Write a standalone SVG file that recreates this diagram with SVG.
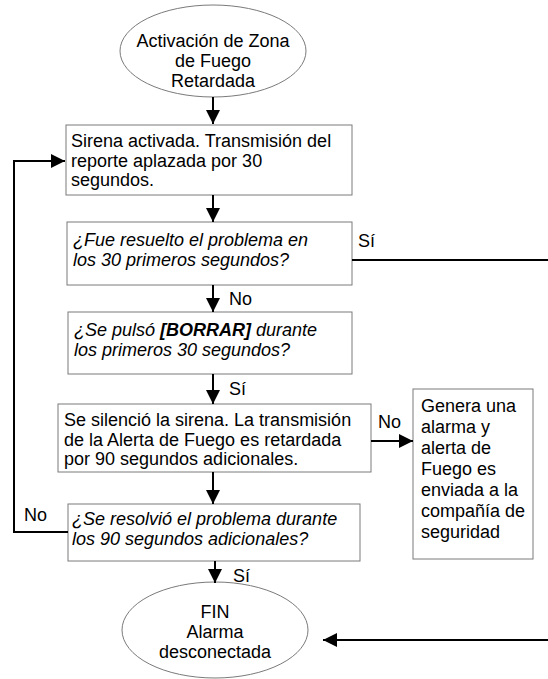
<svg xmlns="http://www.w3.org/2000/svg" width="548" height="679" viewBox="0 0 548 679">
<style>
.box{fill:#fff;stroke:#7a7a7a;stroke-width:1}
.t{font-family:"Liberation Sans",Arial,sans-serif;font-size:18px;fill:#000}
.i{font-style:italic}
.c{text-anchor:middle}
.con{fill:none;stroke:#000;stroke-width:2}
</style>
<defs>
<marker id="ah" viewBox="0 0 14 14" refX="14" refY="7" markerWidth="14" markerHeight="14" markerUnits="userSpaceOnUse" orient="auto"><path d="M0,0 L14,7 L0,14 z" fill="#000"/></marker>
</defs>
<rect width="548" height="679" fill="#fff"/>
<g id="start">
<ellipse class="box" cx="213" cy="51" rx="93" ry="46"/>
<text class="t c" x="213" y="47">Activación de Zona</text>
<text class="t c" x="213" y="67">de Fuego</text>
<text class="t c" x="213" y="87">Retardada</text>
</g>
<g id="sirena">
<rect class="box" x="66" y="125" width="286" height="70"/>
<text class="t" x="71" y="147">Sirena activada. Transmisión del</text>
<text class="t" x="71" y="167">reporte aplazada por 30</text>
<text class="t" x="71" y="186">segundos.</text>
</g>
<g id="q1">
<rect class="box" x="67" y="222" width="285" height="63"/>
<text class="t i" x="73" y="246">¿Fue resuelto el problema en</text>
<text class="t i" x="73" y="266">los 30 primeros segundos?</text>
</g>
<g id="q2">
<rect class="box" x="68" y="312" width="284" height="62"/>
<text class="t i" x="74" y="336">¿Se pulsó <tspan font-weight="bold">[BORRAR]</tspan> durante</text>
<text class="t i" x="74" y="356">los primeros 30 segundos?</text>
</g>
<g id="silencio">
<rect class="box" x="58" y="404" width="313" height="68"/>
<text class="t" x="64" y="426">Se silenció la sirena. La transmisión</text>
<text class="t" x="64" y="446">de la Alerta de Fuego es retardada</text>
<text class="t" x="64" y="465">por 90 segundos adicionales.</text>
</g>
<g id="genera">
<rect class="box" x="413" y="389" width="120" height="170"/>
<text class="t" x="421" y="412">Genera una</text>
<text class="t" x="421" y="433">alarma y</text>
<text class="t" x="421" y="454">alerta de</text>
<text class="t" x="421" y="475">Fuego es</text>
<text class="t" x="421" y="496">enviada a la</text>
<text class="t" x="421" y="517">compañía de</text>
<text class="t" x="421" y="538">seguridad</text>
</g>
<g id="q3">
<rect class="box" x="68" y="504" width="292" height="57"/>
<text class="t i" x="72" y="525">¿Se resolvió el problema durante</text>
<text class="t i" x="72" y="545">los 90 segundos adicionales?</text>
</g>
<g id="fin">
<ellipse class="box" cx="215" cy="630" rx="93" ry="48"/>
<text class="t c" x="215" y="618">FIN</text>
<text class="t c" x="215" y="638">Alarma</text>
<text class="t c" x="215" y="658">desconectada</text>
</g>
<g id="connectors">
<line class="con" x1="213" y1="97" x2="213" y2="124" marker-end="url(#ah)"/>
<line class="con" x1="213" y1="195" x2="213" y2="222" marker-end="url(#ah)"/>
<line class="con" x1="213" y1="285" x2="213" y2="312" marker-end="url(#ah)"/>
<line class="con" x1="213" y1="374" x2="213" y2="404" marker-end="url(#ah)"/>
<line class="con" x1="213" y1="472" x2="213" y2="504" marker-end="url(#ah)"/>
<line class="con" x1="215" y1="561" x2="215" y2="583" marker-end="url(#ah)"/>
<line class="con" x1="371" y1="441" x2="413" y2="441" marker-end="url(#ah)"/>
<polyline class="con" points="68,532 14,532 14,161 65,161" marker-end="url(#ah)"/>
<polyline class="con" points="352,260 552,260 552,640 323,640" marker-end="url(#ah)"/>
<text class="t" x="229" y="305">No</text>
<text class="t" x="229" y="395">Sí</text>
<text class="t" x="233" y="582">Sí</text>
<text class="t" x="358" y="247">Sí</text>
<text class="t" x="378" y="428">No</text>
<text class="t" x="24" y="521">No</text>
</g>
</svg>
